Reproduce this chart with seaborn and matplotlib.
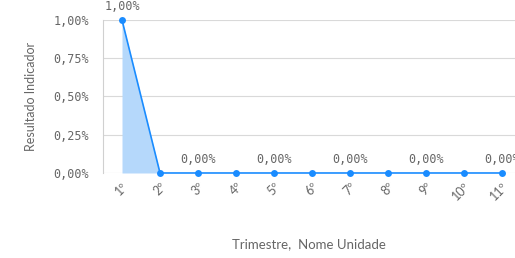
import matplotlib
matplotlib.use("Agg")
import matplotlib.pyplot as plt
import seaborn as sns
import pandas as pd

# --- Données ---
trimestres = ["1º", "2º", "3º", "4º", "5º", "6º", "7º", "8º", "9º", "10º", "11º"]
resultado = [1.00, 0.00, 0.00, 0.00, 0.00, 0.00, 0.00, 0.00, 0.00, 0.00, 0.00]
rotulos_visiveis = [0, 2, 4, 6, 8, 10]
yticks = [0.00, 0.25, 0.50, 0.75, 1.00]

df = pd.DataFrame({"trimestre": trimestres, "resultado": resultado})
df["pos"] = range(len(df))

sns.set_style("white")
cinza = "#666666"
azul = "#1a8cff"
mono = "DejaVu Sans Mono"

fig = plt.figure(figsize=(5.15, 2.58), dpi=100)
ax = fig.add_axes([0.2, 0.3295, 0.8, 0.593])

ax.fill_between(df["pos"], df["resultado"], 0, color="#b5d8fb", linewidth=0)
sns.lineplot(data=df, x="pos", y="resultado", color=azul, linewidth=1.2,
             marker="o", markersize=5, markeredgewidth=0, ax=ax, clip_on=False)

for i in rotulos_visiveis:
    txt = f"{resultado[i]:.2f}%".replace(".", ",")
    ax.annotate(txt, (df["pos"][i], resultado[i]), xytext=(0, 5), textcoords="offset points",
                ha="center", va="bottom", fontsize=8.5, color=cinza,
                family=mono, annotation_clip=False)

ax.set_xlim(-0.5, 10.34)
ax.set_ylim(0, 1.0)
ax.set_yticks(yticks)
ax.set_yticklabels([f"{v:.2f}%".replace(".", ",") for v in yticks],
                   family=mono, fontsize=8.5, color=cinza)
ax.set_xticks(df["pos"])
ax.set_xticklabels(trimestres, rotation=45, ha="right", rotation_mode="anchor",
                   family=["Lato", mono], fontsize=9, color=cinza)
ax.tick_params(axis="y", length=0, pad=10)
ax.tick_params(axis="x", length=0, pad=5)

ax.grid(axis="y", color="#d9d9d9", linewidth=0.8)
ax.grid(axis="x", visible=False)
ax.set_axisbelow(True)
for s in ["top", "right", "bottom"]:
    ax.spines[s].set_visible(False)
ax.spines["left"].set_color("#d0d0d0")
ax.spines["left"].set_linewidth(0.8)

ax.set_xlabel("Trimestre,  Nome Unidade", family="Lato", fontsize=9.5, color=cinza, labelpad=26)
ax.set_ylabel("Resultado Indicador", family="Lato", fontsize=9, color=cinza, labelpad=12)

plt.savefig("out.png", dpi=100)
